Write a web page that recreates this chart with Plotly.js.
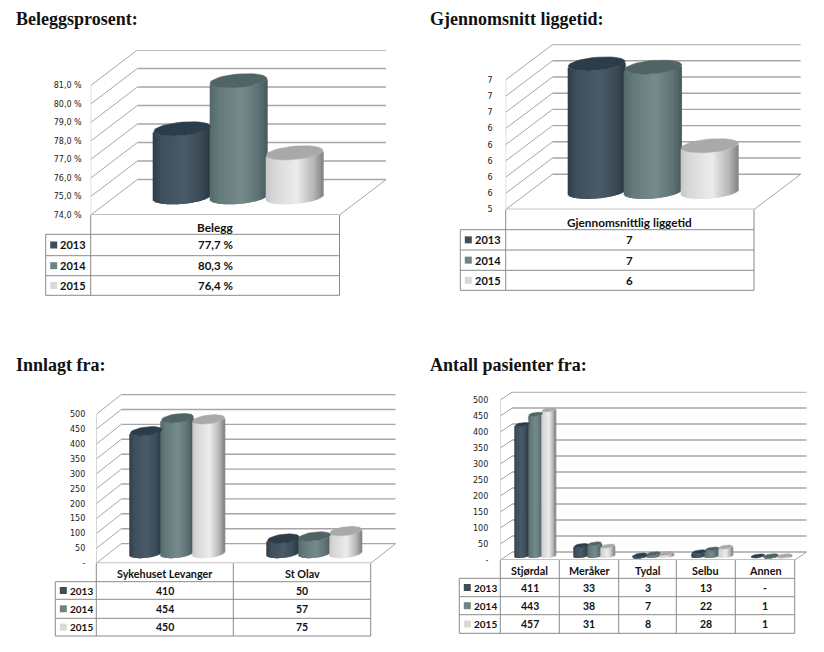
<!DOCTYPE html>
<html><head><meta charset="utf-8">
<script src="https://cdn.plot.ly/plotly-3.0.1.min.js"></script>
<style>html,body{margin:0;padding:0;background:#fff}</style></head>
<body><div id="chart" style="width:824px;height:652px"></div>
<script>
// ---- data ----
const years = ['2013', '2014', '2015'];

const occupancyTitle = 'Beleggsprosent:';
const occupancyCategories = ['Belegg'];
const occupancy2013 = [77.7];
const occupancy2014 = [80.3];
const occupancy2015 = [76.4];
const occupancyText2013 = ['77,7 %'];
const occupancyText2014 = ['80,3 %'];
const occupancyText2015 = ['76,4 %'];
const occupancyTicks = [74, 75, 76, 77, 78, 79, 80, 81];
const occupancyTickLabels = ['74,0 %', '75,0 %', '76,0 %', '77,0 %', '78,0 %', '79,0 %', '80,0 %', '81,0 %'];

const stayTitle = 'Gjennomsnitt liggetid:';
const stayCategories = ['Gjennomsnittlig liggetid'];
const stay2013 = [6.98];
const stay2014 = [6.94];
const stay2015 = [5.97];
const stayText2013 = ['7'];
const stayText2014 = ['7'];
const stayText2015 = ['6'];
const stayTicks = [5.4, 5.6, 5.8, 6.0, 6.2, 6.4, 6.6, 6.8, 7.0];
const stayTickLabels = ['5', '6', '6', '6', '6', '6', '7', '7', '7'];

const admittedTitle = 'Innlagt fra:';
const admittedCategories = ['Sykehuset Levanger', 'St Olav'];
const admitted2013 = [410, 50];
const admitted2014 = [454, 57];
const admitted2015 = [450, 75];
const admittedText2013 = ['410', '50'];
const admittedText2014 = ['454', '57'];
const admittedText2015 = ['450', '75'];
const countTicks = [0, 50, 100, 150, 200, 250, 300, 350, 400, 450, 500];
const countTickLabels = ['-', '50', '100', '150', '200', '250', '300', '350', '400', '450', '500'];

const patientsTitle = 'Antall pasienter fra:';
const patientsCategories = ['Stjørdal', 'Meråker', 'Tydal', 'Selbu', 'Annen'];
const patients2013 = [411, 33, 3, 13, 0];
const patients2014 = [443, 38, 7, 22, 1];
const patients2015 = [457, 31, 8, 28, 1];
const patientsText2013 = ['411', '33', '3', '13', '-'];
const patientsText2014 = ['443', '38', '7', '22', '1'];
const patientsText2015 = ['457', '31', '8', '28', '1'];

// ---- styles ----
const W = 824, H = 652;
const bodyStops = [
  [[0, '#2f3c48'], [0.15, '#3f4f5d'], [0.55, '#4a5b69'], [0.85, '#3b4a57'], [1, '#2c3944']],
  [[0, '#55686a'], [0.15, '#64797a'], [0.55, '#768b8c'], [0.85, '#5f7375'], [1, '#4a5c5f']],
  [[0, '#c6c6c6'], [0.12, '#d6d6d6'], [0.55, '#ececec'], [0.85, '#b5b5b5'], [1, '#858585']]
];
const capColors = ['#2c3c49', '#506365', '#a9a9a9'];
const swatchColors = ['#3e4e5c', '#6f8485', '#d9d9d9'];
const gridColor = '#a6a6a6', tableLine = '#8a8a8a';
const tickFont = {family: '"DejaVu Sans"', size: 8, color: '#1a1a1a'};
const titleFont = {family: '"Liberation Serif"', size: 18, color: '#111', weight: 700};

const charts = [
  {title: occupancyTitle, titleX: 14, titleY: 19, cats: occupancyCategories,
   series: [occupancy2013, occupancy2014, occupancy2015], text: [occupancyText2013, occupancyText2014, occupancyText2015],
   ticks: occupancyTicks, labels: occupancyTickLabels, standoff: 8,
   x0: 90.7, x1: 339.5, yF: 215, yT: 50, tickPx: 18.5, dx: 46.7, dy: 35.5, spacing: 56.2, depth: 0.4,
   tl: 45.7, cols: [90.7, 339.5], rows: [215, 234.3, 255.7, 275.7, 295.3], headDy: 3,
   headSize: 11.8, cellSize: 11.5, yearSize: 11},
  {title: stayTitle, titleX: 427.5, titleY: 19, cats: stayCategories,
   series: [stay2013, stay2014, stay2015], text: [stayText2013, stayText2014, stayText2015],
   ticks: stayTicks, labels: stayTickLabels, standoff: 12,
   x0: 505.7, x1: 754, yF: 209.5, yT: 44.3, tickPx: 16.2, dx: 46.8, dy: 35.3, spacing: 56.5, depth: 0.4,
   tl: 460.3, cols: [505.7, 754], rows: [209.5, 229.7, 250, 270.3, 290.3], headDy: 3,
   headSize: 11.8, cellSize: 11.5, yearSize: 11},
  {title: admittedTitle, titleX: 14, titleY: 365, cats: admittedCategories,
   series: [admitted2013, admitted2014, admitted2015], text: [admittedText2013, admittedText2014, admittedText2015],
   ticks: countTicks, labels: countTickLabels, standoff: 10,
   x0: 96.3, x1: 370.7, yF: 563.3, yT: 394, tickPx: 14.9, dx: 25, dy: 19.7, spacing: 31.2, depth: 0.48,
   tl: 55.3, cols: [96.3, 233.3, 370.7], rows: [563.3, 581.7, 599.3, 618.3, 636], headDy: 1,
   headSize: 10.8, cellSize: 10.5, yearSize: 10},
  {title: patientsTitle, titleX: 427.5, titleY: 365, cats: patientsCategories,
   series: [patients2013, patients2014, patients2015], text: [patientsText2013, patientsText2014, patientsText2015],
   ticks: countTicks, labels: countTickLabels, standoff: 11,
   x0: 500.3, x1: 794.7, yF: 560, yT: 391.7, tickPx: 16, dx: 12, dy: 8, spacing: 13.3, depth: 0.5,
   tl: 459.3, cols: [500.3, 559.3, 618.7, 676.3, 735.3, 794.7], rows: [560, 578.3, 596.7, 614.7, 633.3], headDy: 1,
   headSize: 10.8, cellSize: 10.5, yearSize: 10}
];

// ---- helpers ----
const px = x => x / W, py = y => 1 - y / H;
function hex(c) { return [1, 3, 5].map(i => parseInt(c.substr(i, 2), 16)); }
function shade(stops, t) {
  for (let i = 1; i < stops.length; i++) {
    if (t <= stops[i][0]) {
      const f = (t - stops[i - 1][0]) / (stops[i][0] - stops[i - 1][0]);
      const a = hex(stops[i - 1][1]), b = hex(stops[i][1]);
      return 'rgb(' + a.map((v, k) => Math.round(v + (b[k] - v) * f)).join(',') + ')';
    }
  }
  return stops[stops.length - 1][1];
}
const boldFont = size => ({family: 'Lato', size, color: '#111', weight: 700});

const traces = [], shapes = [], annotations = [], layout = {
  width: W, height: H, margin: {l: 0, r: 0, t: 0, b: 0, pad: 0},
  paper_bgcolor: '#fff', plot_bgcolor: 'rgba(0,0,0,0)', showlegend: false, barmode: 'overlay',
  hovermode: false
};

charts.forEach((c, idx) => {
  const n = idx + 1, xa = 'x' + (n === 1 ? '' : n), ya = 'y' + (n === 1 ? '' : n);
  const nc = c.cats.length;
  const ux = (c.x1 - c.x0) / nc;                     // px per category
  const step = c.ticks[1] - c.ticks[0];
  const uy = c.tickPx / step;                        // px per value unit
  const ymin = c.ticks[0], ytopTick = c.ticks[c.ticks.length - 1];
  const depX = c.dx / ux, depY = c.dy / uy;
  const xmax = nc + depX, ymax = ymin + (c.yF - c.yT) / uy;

  layout['xaxis' + (n === 1 ? '' : n)] = {
    domain: [px(c.x0), px(c.x1 + c.dx)], range: [0, xmax], anchor: ya, visible: false, fixedrange: true};
  layout['yaxis' + (n === 1 ? '' : n)] = {
    domain: [py(c.yF), py(c.yT)], range: [ymin, ymax], anchor: xa, showgrid: false, zeroline: false, showline: false,
    tickmode: 'array', tickvals: c.ticks, ticktext: c.labels, ticks: '', tickfont: tickFont,
    ticklabelstandoff: c.standoff, fixedrange: true};

  // wall grid and floor edges
  const line = (x0, y0, x1, y1, color, width) => shapes.push({type: 'line', layer: 'below', xref: xa, yref: ya,
    x0, y0, x1, y1, line: {color, width}});
  c.ticks.forEach(v => {
    line(0, v, depX, v + depY, gridColor, 1);
    line(depX, v + depY, xmax, v + depY, gridColor, 1.4);
  });
  line(0, ymin, 0, ytopTick, '#b8b8b8', 1);
  line(nc, ymin, xmax, ymin + depY, gridColor, 1);
  line(0, ymin, nc, ymin, '#c2c2c2', 2);

  // cylinders
  const sp = c.spacing / ux;
  const p = c.depth * depX / 2, q = c.depth * depY / 2;
  const R = sp / 2 + 0.3 / ux;
  const a = Math.sqrt(Math.max(R * R - p * p, 1e-6));
  const phi = Math.atan2(p, a);
  const Rr = Math.sqrt(a * a + p * p);
  c.series.forEach((vals, s) => {
    const xs = [], bases = [], heights = [], cols = [], widths = [];
    const capX = [], capY = [];
    vals.forEach((v, i) => {
      const xc = i + 0.5 + (s - 1) * sp + depX / 2;
      const yc = ymin + depY / 2;
      const stepX = 1 / ux;
      for (let d = -Rr + stepX / 2; d < Rr; d += stepX) {
        const al = Math.acos(Math.max(-1, Math.min(1, d / Rr)));
        const low = Math.min(q * Math.sin(phi + al), q * Math.sin(phi - al));
        xs.push(xc + d); bases.push(yc + low); heights.push(v - ymin); widths.push(stepX * 1.5);
        cols.push(shade(bodyStops[s], (d + Rr) / (2 * Rr)));
      }
      if (capX.length) { capX.push(null); capY.push(null); }
      for (let k = 0; k <= 40; k++) {
        const th = k / 40 * 2 * Math.PI;
        capX.push(xc + a * Math.cos(th) + p * Math.sin(th));
        capY.push(v + depY / 2 + q * Math.sin(th));
      }
    });
    traces.push({type: 'bar', name: years[s], xaxis: xa, yaxis: ya, x: xs, y: heights, base: bases, width: widths,
      marker: {color: cols, line: {width: 0}}, hoverinfo: 'skip'});
    traces.push({type: 'scatter', mode: 'lines', name: years[s] + ' top', xaxis: xa, yaxis: ya, x: capX, y: capY,
      fill: 'toself', fillcolor: capColors[s], line: {color: capColors[s], width: 0.5}, hoverinfo: 'skip'});
  });

  // title
  annotations.push({xref: 'paper', yref: 'paper', x: px(c.titleX), y: py(c.titleY), xanchor: 'left', yanchor: 'middle',
    text: c.title, showarrow: false, font: titleFont});

  // data table
  const pline = (x0, y0, x1, y1) => shapes.push({type: 'line', xref: 'paper', yref: 'paper',
    x0: px(x0), y0: py(y0), x1: px(x1), y1: py(y1), line: {color: tableLine, width: 1}});
  const r = c.rows, cl = c.cols;
  pline(c.tl, r[1], cl[cl.length - 1], r[1]);
  pline(c.tl, r[2], cl[cl.length - 1], r[2]);
  pline(c.tl, r[3], cl[cl.length - 1], r[3]);
  pline(c.tl, r[4], cl[cl.length - 1], r[4]);
  pline(c.tl, r[1], c.tl, r[4]);
  cl.forEach(x => pline(x, r[0], x, r[4]));
  c.cats.forEach((name, i) => {
    annotations.push({xref: 'paper', yref: 'paper', x: px((cl[i] + cl[i + 1]) / 2), y: py((r[0] + r[1]) / 2 + c.headDy),
      xanchor: 'center', yanchor: 'middle', text: name, showarrow: false, font: boldFont(c.headSize)});
  });
  years.forEach((yr, s) => {
    const ym = (r[s + 1] + r[s + 2]) / 2;
    shapes.push({type: 'rect', xref: 'paper', yref: 'paper', x0: px(c.tl + 4.5), x1: px(c.tl + 11.5), y0: py(ym - 3.5), y1: py(ym + 3.5),
      fillcolor: swatchColors[s], line: {width: 0}});
    annotations.push({xref: 'paper', yref: 'paper', x: px(c.tl + 12.5), y: py(ym), xanchor: 'left', yanchor: 'middle',
      text: yr, showarrow: false, font: boldFont(c.yearSize)});
    c.cats.forEach((_, i) => {
      annotations.push({xref: 'paper', yref: 'paper', x: px((cl[i] + cl[i + 1]) / 2), y: py(ym), xanchor: 'center', yanchor: 'middle',
        text: c.text[s][i], showarrow: false, font: boldFont(c.cellSize)});
    });
  });
});

layout.shapes = shapes;
layout.annotations = annotations;
Plotly.newPlot('chart', traces, layout, {displayModeBar: false, responsive: false});
</script></body></html>
